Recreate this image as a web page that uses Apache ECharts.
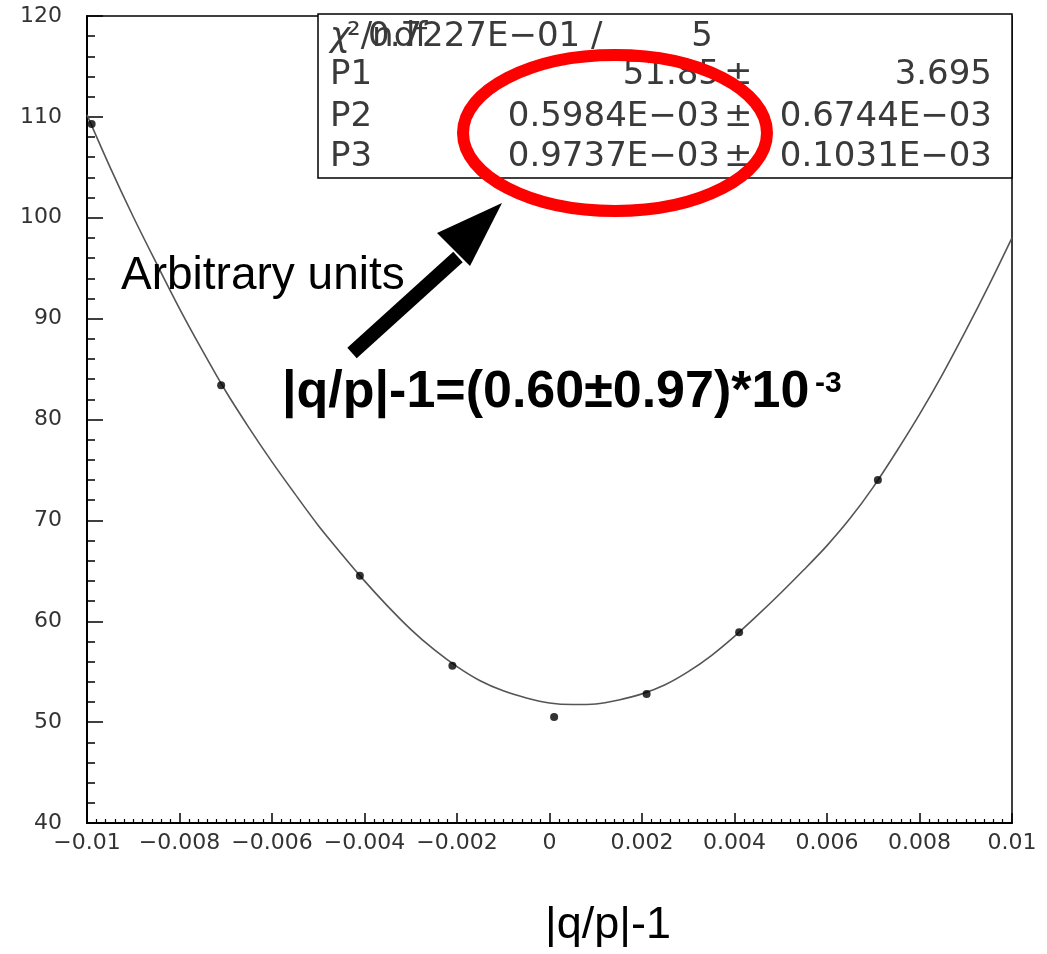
<!DOCTYPE html>
<html>
<head>
<meta charset="utf-8">
<script src="https://cdn.jsdelivr.net/npm/echarts@6/dist/echarts.min.js"></script>
<style>
html,body{margin:0;padding:0;background:#fff;}
#chart{width:1047px;height:954px;}
</style>
</head>
<body>
<div id="chart"></div>
<script>
// measured points
const pointX = [-0.0099, -0.0071, -0.0041, -0.0021, 0.0001, 0.0021, 0.0041, 0.0071];
const pointY = [109.3, 83.4, 64.5, 55.6, 50.5, 52.8, 58.9, 74.0];
// fit curve
const curveX = [-0.0100, -0.0095, -0.0090, -0.0085, -0.0080, -0.0075, -0.0070, -0.0065, -0.0060, -0.0055,
                -0.0050, -0.0045, -0.0040, -0.0035, -0.0030, -0.0025, -0.0020, -0.0015, -0.0010, -0.0005,
                 0.0000,  0.0005,  0.0010,  0.0015,  0.0020,  0.0025,  0.0030,  0.0035,  0.0040,  0.0045,
                 0.0050,  0.0055,  0.0060,  0.0065,  0.0070,  0.0075,  0.0080,  0.0085,  0.0090,  0.0095, 0.0100];
const curveY = [110.2, 105.0, 100.1, 95.5, 91.0, 86.8, 82.8, 79.2, 75.8, 72.6,
                 69.5,  66.7,  64.0, 61.5, 59.2, 57.2, 55.5, 54.1, 53.1, 52.4,
                 51.9,  51.75, 51.8, 52.2, 52.8, 53.7, 55.0, 56.6, 58.5, 60.6,
                 62.8,  65.1,  67.5, 70.2, 73.3, 76.8, 80.5, 84.5, 88.8, 93.3, 98.0];
const xTickLabels = ['\u22120.01', '\u22120.008', '\u22120.006', '\u22120.004', '\u22120.002', '0', '0.002', '0.004', '0.006', '0.008', '0.01'];
const yTickLabels = ['40', '50', '60', '70', '80', '90', '100', '110', '120'];
const statsNames = ['P1', 'P2', 'P3'];
const statsValues = ['51.85', '0.5984E\u221203', '0.9737E\u221203'];
const statsErrors = ['3.695', '0.6744E\u221203', '0.1031E\u221203'];

const chart = echarts.init(document.getElementById('chart'));
const tickFont = 'DejaVu Sans';
const statFont = '34px "DejaVu Sans"';
const statColor = '#3a3a3a';

const graphics = [];
// stats box
graphics.push({type:'rect', shape:{x:318, y:14, width:694, height:164}, style:{fill:'#fff', stroke:'#000', lineWidth:1.5}, z:50});
graphics.push({type:'text', x:330, y:37, style:{text:'\u03c7', font:'italic 34px "DejaVu Sans"', fill:statColor, textVerticalAlign:'middle'}, z:51});
graphics.push({type:'text', x:347, y:37, style:{text:'\u00b2/ndf', font:statFont, fill:statColor, textVerticalAlign:'middle'}, z:51});
graphics.push({type:'text', x:368, y:37, style:{text:'0.7227E\u221201 /', font:statFont, fill:statColor, textVerticalAlign:'middle'}, z:51});
graphics.push({type:'text', x:713, y:37, style:{text:'5', font:statFont, fill:statColor, textAlign:'right', textVerticalAlign:'middle'}, z:51});
const rowY = [75, 117, 157];
statsNames.forEach((n, i) => {
  graphics.push({type:'text', x:330, y:rowY[i], style:{text:n, font:statFont, fill:statColor, textVerticalAlign:'middle'}, z:51});
  graphics.push({type:'text', x:720, y:rowY[i], style:{text:statsValues[i], font:statFont, fill:statColor, textAlign:'right', textVerticalAlign:'middle'}, z:51});
  graphics.push({type:'text', x:724, y:rowY[i], style:{text:'\u00b1', font:statFont, fill:statColor, textVerticalAlign:'middle'}, z:51});
  graphics.push({type:'text', x:992, y:rowY[i], style:{text:statsErrors[i], font:statFont, fill:statColor, textAlign:'right', textVerticalAlign:'middle'}, z:51});
});
// red ellipse
graphics.push({type:'ellipse', shape:{cx:615, cy:133, rx:152, ry:78}, style:{fill:null, stroke:'#ff0000', lineWidth:12}, z:60});
// arrow
graphics.push({type:'line', shape:{x1:352, y1:353, x2:458, y2:257}, style:{stroke:'#000', lineWidth:14}, z:60});
graphics.push({type:'polygon', shape:{points:[[502,203],[437,233],[470,266]]}, style:{fill:'#000'}, z:60});
// texts
graphics.push({type:'text', x:121, y:276, style:{text:'Arbitrary units', font:'46px "Liberation Sans"', fill:'#000', textVerticalAlign:'middle'}, z:61});
graphics.push({type:'text', x:282, y:393, style:{text:'|q/p|-1=(0.60\u00b10.97)*10', font:'bold 52px "Liberation Sans"', fill:'#000', textVerticalAlign:'middle'}, z:61});
graphics.push({type:'text', x:815, y:384, style:{text:'-3', font:'bold 30px "Liberation Sans"', fill:'#000', textVerticalAlign:'middle'}, z:61});
graphics.push({type:'text', x:608, y:926, style:{text:'|q/p|-1', font:'45px "Liberation Sans"', fill:'#000', textAlign:'center', textVerticalAlign:'middle'}, z:61});

chart.setOption({
  animation: false,
  backgroundColor: '#fff',
  grid: {left:87, right:35, top:16, bottom:131, show:true, borderColor:'#000', borderWidth:1.5, backgroundColor:'transparent'},
  xAxis: {
    type:'value', min:-0.01, max:0.01, interval:0.002,
    axisLine:{show:true, onZero:false, lineStyle:{color:'#000', width:2}},
    axisTick:{show:true, inside:true, length:10, lineStyle:{color:'#000', width:1.5}},
    minorTick:{show:true, splitNumber:10, length:4, lineStyle:{color:'#000', width:1.2}},
    splitLine:{show:false},
    axisLabel:{margin:9, fontFamily:tickFont, fontSize:22, color:'#333',
      formatter:(v)=> xTickLabels[Math.round((v + 0.01) / 0.002)] }
  },
  yAxis: {
    type:'value', min:40, max:120, interval:10,
    axisLine:{show:true, onZero:false, lineStyle:{color:'#000', width:2}},
    axisTick:{show:true, inside:true, length:16, lineStyle:{color:'#000', width:1.5}},
    minorTick:{show:true, splitNumber:5, length:8, lineStyle:{color:'#000', width:1.5}},
    splitLine:{show:false},
    axisLabel:{margin:25, fontFamily:tickFont, fontSize:22, color:'#333',
      formatter:(v)=> yTickLabels[Math.round((v - 40) / 10)] }
  },
  series: [
    {type:'line', data: curveX.map((x,i)=>[x, curveY[i]]), smooth:0.3, showSymbol:false, symbol:'none',
     lineStyle:{color:'#555', width:1.6}, z:2, silent:true},
    {type:'scatter', data: pointX.map((x,i)=>[x, pointY[i]]), symbol:'circle', symbolSize:8,
     itemStyle:{color:'#000'}, z:3, silent:true}
  ],
  graphic: graphics
});
</script>
</body>
</html>
